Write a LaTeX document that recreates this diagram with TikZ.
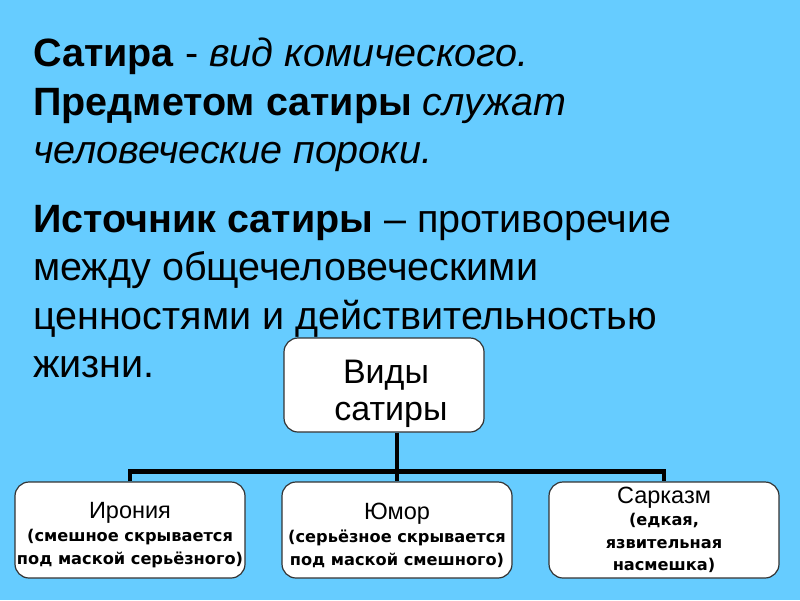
\documentclass[tikz,border=0pt]{standalone}
\usepackage{fontspec}
\setmainfont{Liberation Sans}
\newfontfamily\notefont{DejaVu Sans}
\newcommand\kindfont{\normalfont\fontsize{23.5}{26}\selectfont}
\definecolor{skyback}{RGB}{102,204,255}

\tikzset{
    txt/.style={anchor=north west, inner sep=0pt, align=left, font=\fontsize{39.5}{48.5}\selectfont},
    box/.style={draw=black!80, fill=white, rounded corners=14pt, line width=1.2pt,
        minimum width=230pt, minimum height=96pt, align=center, inner sep=0pt,
        font=\notefont\bfseries\fontsize{16.2}{23}\selectfont},
    link/.style={line width=4.5pt}
}

\begin{document}
\begin{tikzpicture}[x=1pt, y=-1pt]
    \fill[skyback] (0,0) rectangle (800,600);
    \useasboundingbox (0,0) rectangle (800,600);

    \node[txt] (def) at (33,38) {\textbf{Сатира} - \textit{вид комического.}\\
        \textbf{Предметом сатиры} \textit{служат}\\
        \textit{человеческие пороки.}};
    \node[txt] (src) at (33,205) {\textbf{Источник сатиры} – противоречие\\
        между общечеловеческими\\
        ценностями и действительностью\\
        жизни.};

    \node[box, minimum width=200pt, minimum height=94pt,
        font=\fontsize{34}{37}\selectfont] (vid) at (384,385) {\rule{0pt}{42pt}\hspace*{4pt}Виды\\ \hspace*{14pt}сатиры};

    \node[box] (b1) at (130,530) {{\kindfont\rule{0pt}{27pt}Ирония}\\
        (смешное скрывается\\
        под маской серьёзного)};
    \node[box] (b2) at (397,530) {{\kindfont\rule{0pt}{27pt}Юмор}\\
        (серьёзное скрывается\\
        под маской смешного)};
    \node[box, font=\notefont\bfseries\fontsize{16.2}{22.5}\selectfont] (b3) at (664,530) {{\kindfont Сарказм}\\
        (едкая,\\
        язвительная\\
        насмешка)};

    \draw[link] (b2.north |- vid.south) -- (b2.north);
    \draw[link] (b1.north) -- ++(0,-10) -| (b3.north);
\end{tikzpicture}
\end{document}
